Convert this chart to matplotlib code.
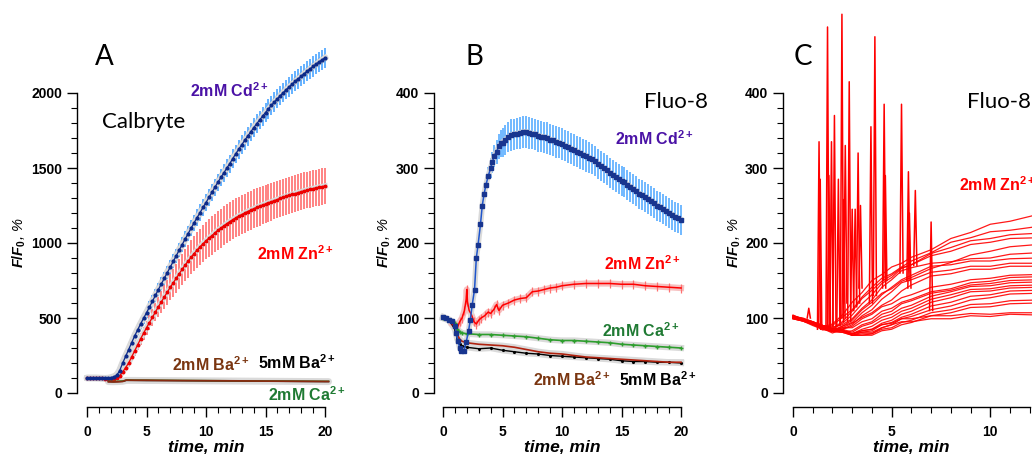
import numpy as np
import matplotlib.pyplot as plt
import matplotlib.transforms as mtransforms

plt.rcParams['font.family'] = ['Liberation Sans', 'DejaVu Sans']
plt.rcParams['font.weight'] = 'bold'
plt.rcParams['mathtext.fontset'] = 'custom'
plt.rcParams['mathtext.rm'] = 'Liberation Sans:bold'
plt.rcParams['mathtext.bf'] = 'Liberation Sans:bold'
plt.rcParams['mathtext.it'] = 'Liberation Sans:italic'

# ---------------- panel A (Calbryte), sampled every 15 s ----------------
a_t = np.arange(0, 20.01, 0.25)
a_cd = [100, 100, 100, 100, 99, 98, 97, 98, 102, 108, 118, 150,
        200, 245, 290, 335, 380, 420, 460, 498, 535, 573, 612, 651,
        690, 728, 765, 803, 840, 878, 915, 953, 990, 1027, 1063, 1099,
        1135, 1169, 1203, 1237, 1270, 1304, 1338, 1372, 1405, 1437, 1468, 1499,
        1530, 1563, 1595, 1625, 1655, 1684, 1712, 1740, 1768, 1794, 1820, 1845,
        1870, 1894, 1918, 1940, 1962, 1983, 2003, 2023, 2042, 2060, 2078, 2095,
        2112, 2129, 2145, 2161, 2177, 2192, 2207, 2221, 2235]
a_cd_err = [8, 8, 8, 8, 8, 8, 8, 8, 10, 12, 15, 18, 20, 23, 25, 28, 30, 32, 33, 35,
            36, 38, 39, 41, 42, 43, 44, 45, 46, 47, 48, 49, 50, 51, 52, 53, 54, 55, 55, 56,
            56, 57, 57, 58, 58, 59, 59, 60, 60, 61, 61, 62, 62, 62, 62, 63, 63, 63, 63, 64,
            64, 64, 64, 65, 65, 65, 65, 66, 66, 66, 66, 66, 66, 67, 67, 67, 67, 67, 67, 68, 68]
a_zn = [100, 100, 100, 100, 99, 98, 96, 94, 92, 95, 100, 115,
        140, 170, 200, 240, 280, 320, 360, 398, 435, 470, 505, 540,
        575, 608, 640, 673, 705, 735, 765, 795, 825, 853, 880, 905,
        930, 953, 975, 995, 1015, 1033, 1050, 1068, 1085, 1100, 1115, 1129,
        1143, 1156, 1168, 1179, 1190, 1200, 1210, 1219, 1228, 1237, 1245, 1253,
        1260, 1268, 1275, 1283, 1290, 1298, 1305, 1312, 1318, 1324, 1330, 1336,
        1342, 1348, 1353, 1358, 1363, 1368, 1372, 1376, 1380]
a_zn_err = [8, 8, 8, 8, 8, 8, 8, 8, 10, 12, 14, 17, 20, 23, 26, 29, 32, 36, 40, 44,
            48, 53, 58, 63, 68, 73, 78, 83, 88, 92, 96, 100, 104, 107, 110, 113,
            116, 118, 120, 122, 124, 126, 127, 128, 129, 130, 130, 131, 131, 131, 131, 131,
            131, 130, 130, 130, 130, 129, 129, 128, 128, 127, 127, 126, 126, 125, 125, 124,
            124, 124, 123, 123, 123, 123, 122, 122, 122, 122, 122, 122, 122]
a_base_t = [1.8, 2.2, 2.6, 3.0, 3.3, 4, 5, 6, 8, 10, 12, 14, 16, 18, 20, 20.3]
a_ba2 = [75, 74, 75, 77, 86, 85, 85, 84, 83, 82, 81, 80, 79, 78, 77, 77]
a_ca = [78, 77, 78, 80, 87, 86, 86, 85, 84, 83, 82, 81, 80, 79, 78, 78]
a_ba5 = [76, 75, 76, 78, 84, 84, 83, 83, 82, 81, 80, 79, 78, 77, 76, 76]

# ---------------- panel B (Fluo-8, means) ----------------
b_cd_t = [0, 0.25, 0.5, 0.75, 1.0, 1.1, 1.25, 1.4, 1.55, 1.75, 1.95, 2.15, 2.3, 2.45,
          2.65, 2.8, 2.95, 3.15, 3.3, 3.45, 3.6, 3.8, 4.0, 4.15, 4.3, 4.5, 4.7, 4.9]
b_cd_t = b_cd_t + list(np.arange(5, 20.01, 0.25))
b_cd = [102, 100, 98, 96, 90, 80, 70, 60, 56, 56, 68, 83, 98, 117,
        138, 180, 198, 225, 250, 265, 277, 289, 300, 308, 316, 322, 329, 333,
        334, 338, 341, 344, 345, 346, 347, 348, 348, 347, 346, 345,
        343, 342, 341, 340, 338, 337, 335, 334, 332, 330, 328, 326,
        324, 322, 320, 318, 316, 314, 312, 309, 306, 303, 300, 297,
        294, 291, 288, 286, 283, 281, 278, 275, 272, 269, 266, 264,
        261, 259, 256, 253, 250, 248, 245, 243, 240, 238, 235, 233, 231]
b_cd_err = [3, 3, 3, 3, 3, 3, 3, 3, 3, 3, 3, 3, 3, 4, 5, 6, 7, 8, 9, 10, 11, 12, 13, 14,
            15, 16, 17, 18,
            19, 20, 20, 21, 21, 21, 21, 21, 21, 21, 21, 21, 21, 21, 21, 21, 21, 21, 21, 21,
            21, 21, 21, 21, 21, 21, 21, 21, 21, 21, 20, 20, 20, 20, 20, 20, 20, 20, 20, 20,
            20, 20, 20, 20, 20, 20, 20, 20, 20, 20, 20, 20, 20, 20, 20, 20, 20, 20, 20, 20, 20]
b_zn_t = [0.8, 1.0, 1.2, 1.4, 1.6, 1.8, 1.95, 2.0, 2.05, 2.2, 2.4, 2.6, 2.8, 3.0, 3.2, 3.5,
          3.8, 4.0, 4.3, 4.5, 4.7, 5.0, 5.5, 6.0, 6.5, 7.0, 7.5, 8.0, 8.5, 9.0, 9.5, 10,
          11, 12, 13, 14, 15, 16, 17, 18, 19, 20]
b_zn = [92, 90, 87, 95, 100, 110, 125, 138, 122, 110, 104, 95, 92, 97, 100, 103, 108, 106,
        112, 118, 110, 117, 120, 124, 126, 127, 135, 136, 138, 140, 141, 143, 145, 146,
        146, 146, 145, 145, 143, 142, 141, 140]
b_zn_err = 6
b_low_t = [0, 0.5, 1.0, 1.2, 1.4, 1.6, 2, 3, 4, 5, 6, 7, 8, 9, 10, 11, 12, 13, 14, 15, 16,
           17, 18, 19, 20]
b_ca = [100, 98, 93, 85, 82, 80, 79, 78, 78, 77, 76, 75, 73, 71, 70, 70, 69, 68, 67, 65,
        64, 63, 62, 61, 60]
b_ba2 = [100, 97, 88, 78, 72, 69, 67, 65, 64, 63, 61, 58, 55, 53, 52, 50, 48, 47, 46, 45,
         44, 43, 42, 41, 41]
b_ba5 = [100, 97, 85, 72, 66, 63, 61, 59, 60, 57, 55, 53, 52, 50, 49, 48, 47, 46, 45, 43,
         42, 42, 41, 41, 40]

# ---------------- panel C (Fluo-8, single cells, Zn) ----------------
c_t = [0, 0.5, 1, 1.5, 2, 2.5, 3, 3.5, 4, 4.5, 5, 5.5, 6, 7, 8, 9, 10, 11, 12.4]
c_cell01 = [103, 98, 95, 88, 92, 104, 121, 134, 150, 158, 168, 173, 181, 191, 206, 214, 225, 229, 238]
c_cell02 = [101, 97, 93, 86, 90, 101, 111, 128, 141, 153, 159, 168, 176, 187, 201, 207, 215, 217, 222]
c_cell03 = [100, 99, 94, 88, 85, 93, 104, 119, 131, 146, 154, 166, 171, 186, 194, 203, 206, 211, 213]
c_cell04 = [104, 98, 92, 84, 86, 95, 109, 126, 137, 149, 157, 167, 171, 183, 189, 198, 201, 206, 207]
c_cell05 = [99, 96, 90, 85, 82, 89, 97, 111, 121, 133, 139, 149, 154, 166, 174, 184, 189, 195, 198]
c_cell06 = [102, 100, 95, 90, 88, 91, 99, 113, 124, 141, 151, 163, 167, 173, 175, 179, 180, 185, 187]
c_cell07 = [100, 97, 94, 88, 84, 89, 94, 107, 117, 131, 141, 151, 157, 169, 171, 176, 176, 179, 180]
c_cell08 = [101, 98, 92, 86, 80, 85, 91, 103, 111, 125, 135, 147, 151, 161, 164, 169, 169, 173, 173]
c_cell09 = [103, 99, 93, 87, 83, 87, 93, 101, 107, 117, 124, 136, 144, 156, 159, 165, 165, 169, 169]
c_cell10 = [100, 97, 92, 86, 82, 85, 89, 99, 105, 115, 119, 127, 131, 141, 145, 151, 153, 157, 158]
c_cell11 = [102, 98, 93, 88, 84, 87, 87, 95, 99, 109, 113, 121, 125, 135, 139, 147, 149, 154, 155]
c_cell12 = [99, 96, 91, 86, 82, 81, 83, 91, 95, 105, 109, 119, 123, 133, 137, 144, 146, 150, 151]
c_cell13 = [101, 98, 94, 90, 86, 85, 81, 89, 93, 101, 105, 113, 117, 129, 135, 142, 143, 147, 148]
c_cell14 = [100, 96, 92, 87, 84, 83, 79, 85, 89, 97, 101, 109, 113, 125, 131, 138, 139, 143, 144]
c_cell15 = [103, 99, 95, 90, 86, 83, 79, 83, 85, 93, 97, 105, 109, 121, 127, 135, 136, 140, 141]
c_cell16 = [100, 97, 93, 88, 84, 81, 77, 81, 83, 91, 94, 101, 105, 116, 121, 129, 131, 136, 137]
c_cell17 = [101, 98, 94, 89, 85, 83, 79, 81, 81, 87, 91, 99, 102, 111, 116, 124, 127, 132, 133]
c_cell18 = [102, 99, 95, 90, 86, 83, 77, 79, 79, 85, 87, 94, 97, 107, 111, 118, 119, 123, 124]
c_cell19 = [100, 97, 92, 86, 82, 81, 77, 77, 77, 83, 85, 91, 94, 103, 107, 114, 115, 119, 120]
c_cell20 = [99, 96, 92, 88, 85, 83, 79, 83, 85, 91, 93, 99, 99, 103, 103, 106, 105, 107, 107]
c_cell21 = [101, 98, 94, 90, 86, 85, 77, 77, 79, 87, 91, 95, 95, 99, 99, 103, 102, 105, 104]
c_cells = [c_cell01, c_cell02, c_cell03, c_cell04, c_cell05, c_cell06, c_cell07,
           c_cell08, c_cell09, c_cell10, c_cell11, c_cell12, c_cell13, c_cell14,
           c_cell15, c_cell16, c_cell17, c_cell18, c_cell19, c_cell20, c_cell21]
# transient spikes: time, peak value, value the trace sits at
c_spk_t = [0.8, 1.32, 1.38, 1.75, 1.82, 1.95, 2.1, 2.3, 2.48, 2.56, 2.65, 2.85, 3.0,
           3.15, 3.3, 3.42, 3.95, 4.15, 4.62, 4.68, 5.5, 5.85, 5.9, 6.2, 7.0]
c_spk_peak = [113, 335, 285, 488, 290, 335, 370, 285, 505, 258, 330, 415, 245, 245, 320,
              250, 355, 475, 385, 290, 385, 295, 240, 270, 228]
c_spk_base = [100, 85, 88, 85, 86, 90, 88, 90, 95, 100, 120, 95, 110, 115, 120, 140, 120,
              130, 140, 150, 160, 150, 140, 170, 110]

# ---------------- layout (pixels of the 1032x454 canvas) ----------------
W, H = 1032, 454
AX_BOTTOM = 407
Y0_PX = 393

fig = plt.figure(figsize=(W / 100, H / 100), dpi=100)


def panel(left, right, x0, px_min, px_unit):
    ax = fig.add_axes([left / W, (H - AX_BOTTOM) / H, (right - left) / W, AX_BOTTOM / H])
    ax.set_xlim((left - x0) / px_min, (right - x0) / px_min)
    ax.set_ylim(-(AX_BOTTOM - Y0_PX) / px_unit, Y0_PX / px_unit)
    ax.patch.set_visible(False)
    ax.spines['top'].set_visible(False)
    ax.spines['right'].set_visible(False)
    ax.spines['left'].set_linewidth(1.0)
    ax.spines['bottom'].set_linewidth(1.0)
    ax.tick_params(which='major', direction='out', length=7, width=1.0, labelsize=10)
    ax.tick_params(which='minor', direction='out', length=4, width=0.8)
    ax.tick_params(axis='y', pad=3.6)
    ax.tick_params(axis='x', pad=6)
    return ax


def labels(ax, x_mid, ylab_px):
    trans = mtransforms.blended_transform_factory(ax.transData, ax.transAxes)
    ax.text(x_mid, -(452 - AX_BOTTOM) / AX_BOTTOM, 'time, min', transform=trans,
            ha='center', va='baseline', fontsize=12.5, fontstyle='italic', fontweight='bold')
    fig.text(ylab_px / W, 1 - 243 / H, r'$\mathit{F/F_0}$, %', rotation=90, ha='center',
             va='center', fontsize=10.5, fontstyle='italic', fontweight='normal')


def big(ax, x, y, s, size):
    ax.text(x, y, s, fontsize=size, fontweight='normal', family='Lato', va='baseline')


def ion(ax, x, y, s, color):
    ax.text(x, y, s, fontsize=11.5, fontweight='bold', color=color, va='baseline')


PURPLE = '#4a12a6'
BROWN = '#7a3510'
GREEN = '#1f7a33'
HALO = '#dadada'

# ---- A ----
ax = panel(77, 340, 87, 11.9, 0.15)
ax.spines['left'].set_bounds(0, 2000)
ax.spines['bottom'].set_bounds(0, 20)
ax.set_yticks(np.arange(0, 2001, 500))
ax.set_yticks(np.arange(0, 2001, 100), minor=True)
ax.set_xticks(np.arange(0, 21, 5))
ax.set_xticks(np.arange(0, 21, 1), minor=True)

ax.plot(a_base_t, a_ba5, color=HALO, lw=5, solid_capstyle='round', zorder=1)
ax.plot(a_t, a_cd, color=HALO, lw=5, solid_capstyle='round', zorder=1)
ax.errorbar(a_t, a_zn, yerr=a_zn_err, fmt='none', ecolor='#ff6262', elinewidth=1.1, zorder=2)
ax.errorbar(a_t, a_cd, yerr=a_cd_err, fmt='none', ecolor='#3a9cff', elinewidth=1.1, zorder=2)
ax.plot(a_t, a_zn, color=HALO, lw=4, zorder=3)
ax.plot(a_t, a_cd, color=HALO, lw=4, zorder=3)
ax.plot(a_t, a_zn, color='#ee0000', lw=0.9, marker='o', ms=1.8, zorder=4)
ax.plot(a_t, a_cd, color='#0c2a8a', lw=0.9, marker='o', ms=2.0, zorder=4)
ax.plot(a_base_t, a_ba5, color='black', lw=1, zorder=4)
ax.plot(a_base_t, a_ca, color='#2a9a2a', lw=1, zorder=4)
ax.plot(a_base_t, a_ba2, color='#8a2a10', lw=1.3, zorder=5)

big(ax, 0.67, 2187, 'A', 20)
big(ax, 1.26, 1767, 'Calbryte', 16)
ion(ax, 8.66, 1975, '2mM Cd$^{2+}$', PURPLE)
ion(ax, 14.29, 887, '2mM Zn$^{2+}$', 'red')
ion(ax, 7.14, 147, '2mM Ba$^{2+}$', BROWN)
ion(ax, 14.37, 160, '5mM Ba$^{2+}$', 'black')
ion(ax, 15.2, -53, '2mM Ca$^{2+}$', GREEN)
labels(ax, 10, 19)

# ---- B ----
ax = panel(434, 700, 443, 11.9, 0.75)
ax.spines['left'].set_bounds(0, 400)
ax.spines['bottom'].set_bounds(0, 20)
ax.set_yticks(np.arange(0, 401, 100))
ax.set_yticks(np.arange(0, 401, 20), minor=True)
ax.set_xticks(np.arange(0, 21, 5))
ax.set_xticks(np.arange(0, 21, 1), minor=True)

for ys in [b_ca, b_ba2, b_ba5]:
    ax.plot(b_low_t, ys, color=HALO, lw=4.5, zorder=1)
ax.plot(b_zn_t, b_zn, color='#f6c0c0', lw=4.5, zorder=1)
ax.errorbar(b_zn_t, b_zn, yerr=b_zn_err, fmt='none', ecolor='#ff7070', elinewidth=0.9, zorder=2)
ax.errorbar(b_cd_t, b_cd, yerr=b_cd_err, fmt='none', ecolor='#4aa6ff', elinewidth=1.1, zorder=2)
ax.plot(b_cd_t, b_cd, color=HALO, lw=4, zorder=3)
ax.plot(b_low_t, b_ba5, color='black', lw=1, marker='.', ms=2.5, zorder=4)
ax.plot(b_low_t, b_ba2, color='#b0220f', lw=1.2, zorder=4)
ax.plot(b_low_t, b_ca, color='#2e9e2e', lw=1.2, marker='+', ms=3, zorder=4)
ax.plot(b_zn_t, b_zn, color='red', lw=1.1, zorder=4)
ax.plot(b_cd_t, b_cd, color='#1f55cc', lw=1.1, marker='s', ms=2.8,
        mfc='#18358f', mec='#18358f', zorder=5)

big(ax, 1.85, 437, 'B', 20)
big(ax, 16.89, 380, 'Fluo-8', 16)
ion(ax, 14.45, 331, '2mM Cd$^{2+}$', PURPLE)
ion(ax, 13.53, 164, '2mM Zn$^{2+}$', 'red')
ion(ax, 13.36, 75, '2mM Ca$^{2+}$', GREEN)
ion(ax, 7.56, 9, '2mM Ba$^{2+}$', BROWN)
ion(ax, 14.8, 9, '5mM Ba$^{2+}$', 'black')
labels(ax, 10, 384)

# ---- C ----
ax = panel(783, 1250, 793, 19.73, 0.75)
ax.spines['left'].set_bounds(0, 400)
ax.spines['bottom'].set_bounds(0, 12)
ax.set_yticks(np.arange(0, 401, 100))
ax.set_yticks(np.arange(0, 401, 20), minor=True)
ax.set_xticks(np.arange(0, 13, 5))
ax.set_xticks(np.arange(0, 13, 1), minor=True)

for ys in c_cells:
    ax.plot(c_t, ys, color='red', lw=0.9, alpha=0.9)
for t, pk, base in zip(c_spk_t, c_spk_peak, c_spk_base):
    ax.plot([t - 0.08, t, t + 0.08], [base, pk, base], color='red', lw=1.1)

big(ax, 0.05, 437, 'C', 20)
big(ax, 8.82, 380, 'Fluo-8', 16)
ion(ax, 8.41, 269, '2mM Zn$^{2+}$', 'red')
labels(ax, 6, 734)

fig.savefig('out.png', dpi=100)
